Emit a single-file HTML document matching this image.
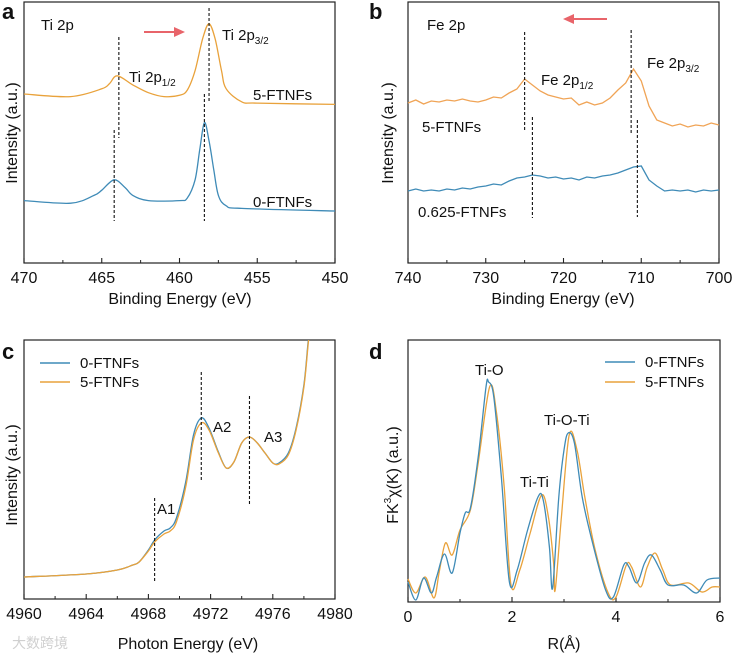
<!DOCTYPE html>
<html><head><meta charset="utf-8">
<style>
html,body{margin:0;padding:0;background:#fff;}
svg{display:block;font-family:"Liberation Sans",Arial,sans-serif;}
</style></head>
<body>
<svg id="fig" width="734" height="655" viewBox="0 0 734 655" xmlns="http://www.w3.org/2000/svg"></svg>
<script>
// ---------- Panel a data (Ti 2p XPS) ----------
const aX5 = [470,467,465,464.5,464,463,462,461,460,459.5,459,458.5,458.1,457.7,457.3,457,456,455,450];
const aY5 = [65,64,67,69,72,68.5,65.5,64,64.5,66.5,74,86.5,92,86,74,67,62,61.5,61];
const aX0 = [470,467,465.5,465,464.2,463.5,463,462,460,459.5,459,458.7,458.4,458.1,457.8,457.5,457,456,450];
const aY0 = [24,23,26,28,32,29,26,24,24,25,32,43.5,54,47,36,26,22,21,20];
// ---------- Panel b data (Fe 2p XPS) ----------
const bX = [740,739,738,737,736,735,734,733,732,731,730,729,728,727,726,725,724,723,722,721,720,719,718,717,716,715,714,713,712,711,710,709,708,707,706,705,704,703,702,701,700];
const bY5 = [160,163,159,162,161,163,162,164,162,161,163,166,165,170,174,184,178,172,168,166,164,165,158,161,158,160,165,173,180,194,182,157,143,140,137,139,136,138,137,140,138];
const bY0 = [72,74,72,73,72,74,73,75,74,76,77,79,78,82,85,86,88,87,85,86,84,85,83,86,85,87,88,90,93,96,97,83,77,72,73,72,73,71,73,72,73];
// ---------- Panel c data (XANES) ----------
const cX = [4960,4964,4966,4967,4967.4,4968,4968.4,4969,4969.4,4969.8,4970.4,4970.9,4971.4,4971.9,4972.5,4973,4973.5,4974,4974.5,4975,4975.5,4976,4976.4,4977,4977.5,4978,4978.3,4978.6];
const cY5 = [22,25,29,34,37,48,57,65,68,77,112,159,176,169,146,131,137,156,162,156,146,136,135,144,169,212,259,300];
const cY0 = [22,25,29,34,37,49,59,68,71,81,117,164,181,171,147,131,137,156,162,156,146,136,136,146,171,214,262,303];
// ---------- Panel d data (EXAFS FT) ----------
const dX0 = [0,0.15,0.3,0.45,0.55,0.7,0.85,1.0,1.1,1.2,1.35,1.5,1.55,1.65,1.8,1.95,2.1,2.3,2.5,2.6,2.72,2.78,2.9,3.0,3.08,3.2,3.35,3.55,3.8,3.95,4.15,4.25,4.4,4.55,4.68,4.85,5.0,5.3,5.55,5.75,6.0];
const dY0 = [20,2,24,9,25,48,29,69,89,94,145,215,220,205,122,20,32,72,105,102,55,14,105,152,169,159,105,59,12,5,37,35,19,39,47,32,17,17,9,22,24];
const dX5 = [0,0.15,0.33,0.5,0.6,0.72,0.85,1.0,1.2,1.35,1.57,1.7,1.85,1.98,2.15,2.35,2.57,2.7,2.8,2.83,2.95,3.1,3.25,3.4,3.6,3.85,4.0,4.2,4.3,4.47,4.6,4.75,4.9,5.05,5.4,5.65,5.85,6.0];
const dY5 = [23,9,25,4,30,59,47,72,92,139,215,190,115,17,32,69,107,85,39,12,85,167,152,105,52,9,5,37,35,15,35,49,32,17,19,10,15,15];

const NS = "http://www.w3.org/2000/svg";
const svg = document.getElementById('fig');
const BLUE = "#3f8bb7", ORANGE = "#e9a23b", RED = "#e8646a";

function mk(tag, attrs, parent){
  const e = document.createElementNS(NS, tag);
  for (const k in attrs) e.setAttribute(k, attrs[k]);
  (parent||svg).appendChild(e);
  return e;
}
function txt(x,y,s,size,anchor,parent){
  const t = mk('text',{x:x,y:y,'font-size':size||15,'text-anchor':anchor||'start',fill:'#111'},parent);
  t.textContent = s;
  return t;
}
function smoothPath(pts){
  let d = "M"+pts[0][0].toFixed(1)+","+pts[0][1].toFixed(1);
  for (let i=0;i<pts.length-1;i++){
    const p0=pts[Math.max(i-1,0)],p1=pts[i],p2=pts[i+1],p3=pts[Math.min(i+2,pts.length-1)];
    const c1x=p1[0]+(p2[0]-p0[0])/6,c1y=p1[1]+(p2[1]-p0[1])/6;
    const c2x=p2[0]-(p3[0]-p1[0])/6,c2y=p2[1]-(p3[1]-p1[1])/6;
    d+=" C"+c1x.toFixed(1)+","+c1y.toFixed(1)+" "+c2x.toFixed(1)+","+c2y.toFixed(1)+" "+p2[0].toFixed(1)+","+p2[1].toFixed(1);
  }
  return d;
}
function linePath(pts){ return pts.map((p,i)=>(i?"L":"M")+p[0].toFixed(1)+","+p[1].toFixed(1)).join(" "); }

function makeAxis(L,R,T,B,x0,x1,yScale){
  const sx = v => L + (v-x0)/(x1-x0)*(R-L);
  const sy = v => B - v*yScale;
  return {sx,sy,L,R,T,B};
}
function frame(ax,name,majors,minors,fmt){
  const g = mk('g',{});
  
  
  mk('rect',{x:ax.L,y:ax.T,width:ax.R-ax.L,height:ax.B-ax.T,fill:'none',stroke:'#222','stroke-width':1.2},g);
  majors.forEach(v=>{
    const x=ax.sx(v);
    mk('line',{x1:x,x2:x,y1:ax.B,y2:ax.B-5,stroke:'#222','stroke-width':1.1},g);
    const t=txt(x,ax.B+20,fmt(v),16,'middle',g);
    
    
  });
  minors.forEach(v=>{
    const x=ax.sx(v);
    mk('line',{x1:x,x2:x,y1:ax.B,y2:ax.B-3,stroke:'#222','stroke-width':1},g);
  });
  return g;
}
function series(ax,xs,ys,color,name,smooth,clip){
  const pts = xs.map((x,i)=>[ax.sx(x),ax.sy(ys[i])]);
  const p = mk('path',{d:smooth?smoothPath(pts):linePath(pts),fill:'none',stroke:color,'stroke-width':1.3});
  if (clip) p.setAttribute('clip-path','url(#'+clip+')');
  
  
  return p;
}
function dash(x,y1,y2,name){
  const l = mk('line',{x1:x,x2:x,y1:y1,y2:y2,stroke:'#111','stroke-width':1.1,'stroke-dasharray':'3,2'});
  
  
}
function ylabel(x,y,s,name){
  const t = txt(0,0,s,16,'middle');
  t.setAttribute('transform','translate('+x+','+y+') rotate(-90)');
  
  
  return t;
}
function letter(x,y,s){
  const t = txt(x,y,s,22,'start');
  t.setAttribute('font-weight','bold');
  
  
}
function arrow(x1,x2,y,name){
  const g = mk('g',{});
  
  
  const dir = x2>x1?1:-1;
  mk('line',{x1:x1,x2:x2-dir*9,y1:y,y2:y,stroke:RED,'stroke-width':2},g);
  mk('polygon',{points:(x2)+","+y+" "+(x2-dir*11)+","+(y-5)+" "+(x2-dir*11)+","+(y+5),fill:RED},g);
}
function label(x,y,main,sub,size,name){
  const t = txt(x,y,main,size||15,'start');
  if (sub){
    const ts = mk('tspan',{'font-size':10,dy:4},t);
    ts.textContent = sub;
  }
  
  
}
const defs = mk('defs',{});
function clip(id,ax){
  const c = mk('clipPath',{id:id},defs);
  mk('rect',{x:ax.L,y:ax.T,width:ax.R-ax.L,height:ax.B-ax.T},c);
}

// ===== Panel a =====
const A = makeAxis(24,335,2,263,470,450,2.6);
frame(A,'panel-a',[470,465,460,455,450],[467.5,462.5,457.5,452.5],v=>String(v));
series(A,aX5,aY5,ORANGE,'series-5-ftnfs-ti2p',true);
series(A,aX0,aY0,BLUE,'series-0-ftnfs-ti2p',true);
dash(A.sx(463.9),37,138,'dash-ti2p12-5');
dash(A.sx(458.1),8,102,'dash-ti2p32-5');
dash(A.sx(464.2),130,221,'dash-ti2p12-0');
dash(A.sx(458.4),94,221,'dash-ti2p32-0');
label(41,30,'Ti 2p',null,15,'title-ti-2p');
label(222,40,'Ti 2p','3/2',15,'label-ti-2p32');
label(129,82,'Ti 2p','1/2',15,'label-ti-2p12');
label(253,100,'5-FTNFs',null,15,'label-5-ftnfs');
label(253,207,'0-FTNFs',null,15,'label-0-ftnfs');
arrow(144,185,32,'shift-arrow-a');
ylabel(17,133,'Intensity (a.u.)','y-axis-title-a');
const xa=txt(180,304,'Binding Energy (eV)',16,'middle');  
letter(2,19,'a');

// ===== Panel b =====
const Bx = makeAxis(408,719,2,263,740,700,1);
frame(Bx,'panel-b',[740,730,720,710,700],[735,725,715,705],v=>String(v));
series(Bx,bX,bY5,"#f0a456",'series-5-ftnfs-fe2p',false);
series(Bx,bX,bY0,BLUE,'series-0625-ftnfs-fe2p',false);
dash(Bx.sx(725),32,130,'dash-fe2p12-5');
dash(Bx.sx(711.3),30,133,'dash-fe2p32-5');
dash(Bx.sx(724),117,218,'dash-fe2p12-0625');
dash(Bx.sx(710.5),120,217,'dash-fe2p32-0625');
label(427,30,'Fe 2p',null,15,'title-fe-2p');
label(647,68,'Fe 2p','3/2',15,'label-fe-2p32');
label(541,85,'Fe 2p','1/2',15,'label-fe-2p12');
label(422,132,'5-FTNFs',null,15,'label-5-ftnfs-b');
label(418,217,'0.625-FTNFs',null,15,'label-0625-ftnfs');
arrow(607,563,19,'shift-arrow-b');
ylabel(393,133,'Intensity (a.u.)','y-axis-title-b');
const xb=txt(563,304,'Binding Energy (eV)',16,'middle');  
letter(369,19,'b');

// ===== Panel c =====
const C = makeAxis(24,335,340,599,4960,4980,1);
clip('clipC',C);
frame(C,'panel-c',[4960,4964,4968,4972,4976,4980],[4962,4966,4970,4974,4978],v=>String(v));
series(C,cX,cY0,BLUE,'series-0-ftnfs-xanes',true,'clipC');
series(C,cX,cY5,ORANGE,'series-5-ftnfs-xanes',true,'clipC');
dash(C.sx(4968.4),498,583,'dash-a1');
dash(C.sx(4971.4),372,481,'dash-a2');
dash(C.sx(4974.5),396,506,'dash-a3');
label(157,514,'A1',null,15,'label-a1');
label(213,432,'A2',null,15,'label-a2');
label(264,442,'A3',null,15,'label-a3');
const lgc = mk('g',{});  
mk('line',{x1:40,x2:70,y1:363,y2:363,stroke:BLUE,'stroke-width':1.5},lgc);
txt(80,368,'0-FTNFs',15,'start',lgc);
mk('line',{x1:40,x2:70,y1:382,y2:382,stroke:ORANGE,'stroke-width':1.5},lgc);
txt(80,387,'5-FTNFs',15,'start',lgc);
ylabel(17,475,'Intensity (a.u.)','y-axis-title-c');
const xc=txt(188,649,'Photon Energy (eV)',16,'middle');  
const wm=txt(12,648,'大数跨境',14,'start'); wm.setAttribute('fill','#d0d0d0'); wm.setAttribute('font-family','"Liberation Sans","Noto Sans CJK SC",sans-serif');
 
letter(2,359,'c');

// ===== Panel d =====
const D = makeAxis(408,720,340,602,0,6,1);
frame(D,'panel-d',[0,2,4,6],[1,3,5],v=>String(v));
series(D,dX5,dY5,ORANGE,'series-5-ftnfs-exafs',true);
series(D,dX0,dY0,BLUE,'series-0-ftnfs-exafs',true);
label(475,375,'Ti-O',null,15,'label-ti-o');
label(520,487,'Ti-Ti',null,15,'label-ti-ti');
label(544,425,'Ti-O-Ti',null,15,'label-ti-o-ti');
const lgd = mk('g',{});  
mk('line',{x1:605,x2:635,y1:362,y2:362,stroke:BLUE,'stroke-width':1.5},lgd);
txt(645,367,'0-FTNFs',15,'start',lgd);
mk('line',{x1:605,x2:635,y1:382,y2:382,stroke:ORANGE,'stroke-width':1.5},lgd);
txt(645,387,'5-FTNFs',15,'start',lgd);
const yd = txt(0,0,'FK',16,'middle');
const sup = mk('tspan',{'font-size':10,dy:-7},yd); sup.textContent='3';
const rest = mk('tspan',{dy:7},yd); rest.textContent='χ(K) (a.u.)';
yd.setAttribute('transform','translate(398,475) rotate(-90)');
 
const xd=txt(564,649,'R(Å)',16,'middle');  
letter(369,359,'d');
</script>
</body></html>
